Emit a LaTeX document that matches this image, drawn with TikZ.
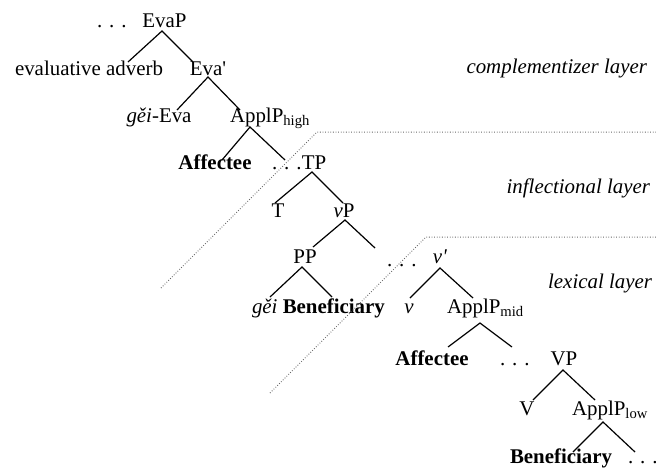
\documentclass[tikz,border=0pt]{standalone}
\usepackage{fontspec}
\setmainfont{Liberation Serif}
\begin{document}
\begin{tikzpicture}[x=0.5pt,y=-0.5pt,
  every node/.style={inner sep=0pt,outer sep=0pt,font=\fontsize{10.45}{12}\selectfont},
  lbl/.style={anchor=base},
  lblw/.style={anchor=base west},
  layer/.style={anchor=base east,font=\fontsize{10.45}{12}\selectfont\itshape},
  branch/.style={line width=0.6pt},
  border/.style={line width=0.5pt,gray!80!black,dash pattern=on 0.4pt off 0.9pt}]
\useasboundingbox (0,0) rectangle (656,467);
% nodes
\node[lblw] (d0) at (97,27) {. . .};
\node[lbl] (EvaP) at (164.5,27) {EvaP};
\node[lbl] (adv) at (89,75) {evaluative adverb};
\node[lbl] (Evab) at (208,75) {Eva\textquotesingle};
\node[lbl] (geiEva) at (159,122) {\textit{gěi}-Eva};
\node[lblw] (ApplH) at (230,122) {ApplP\textsubscript{high}};
\node[lbl] (Aff1) at (215,169) {\textbf{Affectee}};
\node[lblw] (d1) at (272,169) {. . .};
\node[lbl] (TP) at (314,169) {TP};
\node[lbl] (T) at (278,217) {T};
\node[lbl] (vP) at (344,217) {\textit{v}P};
\node[lbl] (PP) at (305,263) {PP};
\node[lblw] (d2) at (387,266) {. . .};
\node[lbl] (vbar) at (440,263) {\textit{v\textquotesingle}};
\node[lblw] (Ben1) at (252,313) {\textit{gěi} \textbf{Beneficiary}};
\node[lbl] (v) at (409,313) {\textit{v}};
\node[lblw] (ApplM) at (447,313) {ApplP\textsubscript{mid}};
\node[lbl] (Aff2) at (432,365) {\textbf{Affectee}};
\node[lblw] (d3) at (500,365) {. . .};
\node[lbl] (VP) at (564,365) {VP};
\node[lbl] (V) at (527,415) {V};
\node[lblw] (ApplL) at (572,415) {ApplP\textsubscript{low}};
\node[lblw] (Ben2) at (510,463) {\textbf{Beneficiary}};
\node[lblw] (d4) at (628,463) {. . .};
% layer labels
\node[layer] (Lc) at (647,73) {complementizer layer};
\node[layer] (Li) at (650,193) {inflectional layer};
\node[layer] (Ll) at (652,288) {lexical layer};
% branch points
\coordinate (a1) at (162,31);  \coordinate (a1l) at (128,62);  \coordinate (a1r) at (193,62);
\coordinate (a2) at (208,77);  \coordinate (a2l) at (177,110); \coordinate (a2r) at (240,110);
\coordinate (a3) at (250,127); \coordinate (a3l) at (222,160); \coordinate (a3r) at (285,160);
\coordinate (a4) at (312,172); \coordinate (a4l) at (275,203); \coordinate (a4r) at (343,203);
\coordinate (a5) at (345,220); \coordinate (a5l) at (313,247); \coordinate (a5r) at (375,248);
\coordinate (a6) at (302,267); \coordinate (a6l) at (270,297); \coordinate (a6r) at (332,297);
\coordinate (a7) at (440,268); \coordinate (a7l) at (410,298); \coordinate (a7r) at (473,298);
\coordinate (a8) at (480,323); \coordinate (a8l) at (448,347); \coordinate (a8r) at (512,347);
\coordinate (a9) at (563,370); \coordinate (a9l) at (533,400); \coordinate (a9r) at (595,400);
\coordinate (a10) at (603,422); \coordinate (a10l) at (573,452); \coordinate (a10r) at (635,452);
\foreach \i in {1,...,10}{
  \draw[branch] (a\i l) -- (a\i) -- (a\i r);
}
% layer borders
\coordinate (b1s) at (161,288); \coordinate (b1c) at (317,132); \coordinate (b1e) at (656,132);
\coordinate (b2s) at (270,393); \coordinate (b2c) at (426,237); \coordinate (b2e) at (656,237);
\draw[border] (b1s) -- (b1c) -- (b1e);
\draw[border] (b2s) -- (b2c) -- (b2e);
\end{tikzpicture}
\end{document}
